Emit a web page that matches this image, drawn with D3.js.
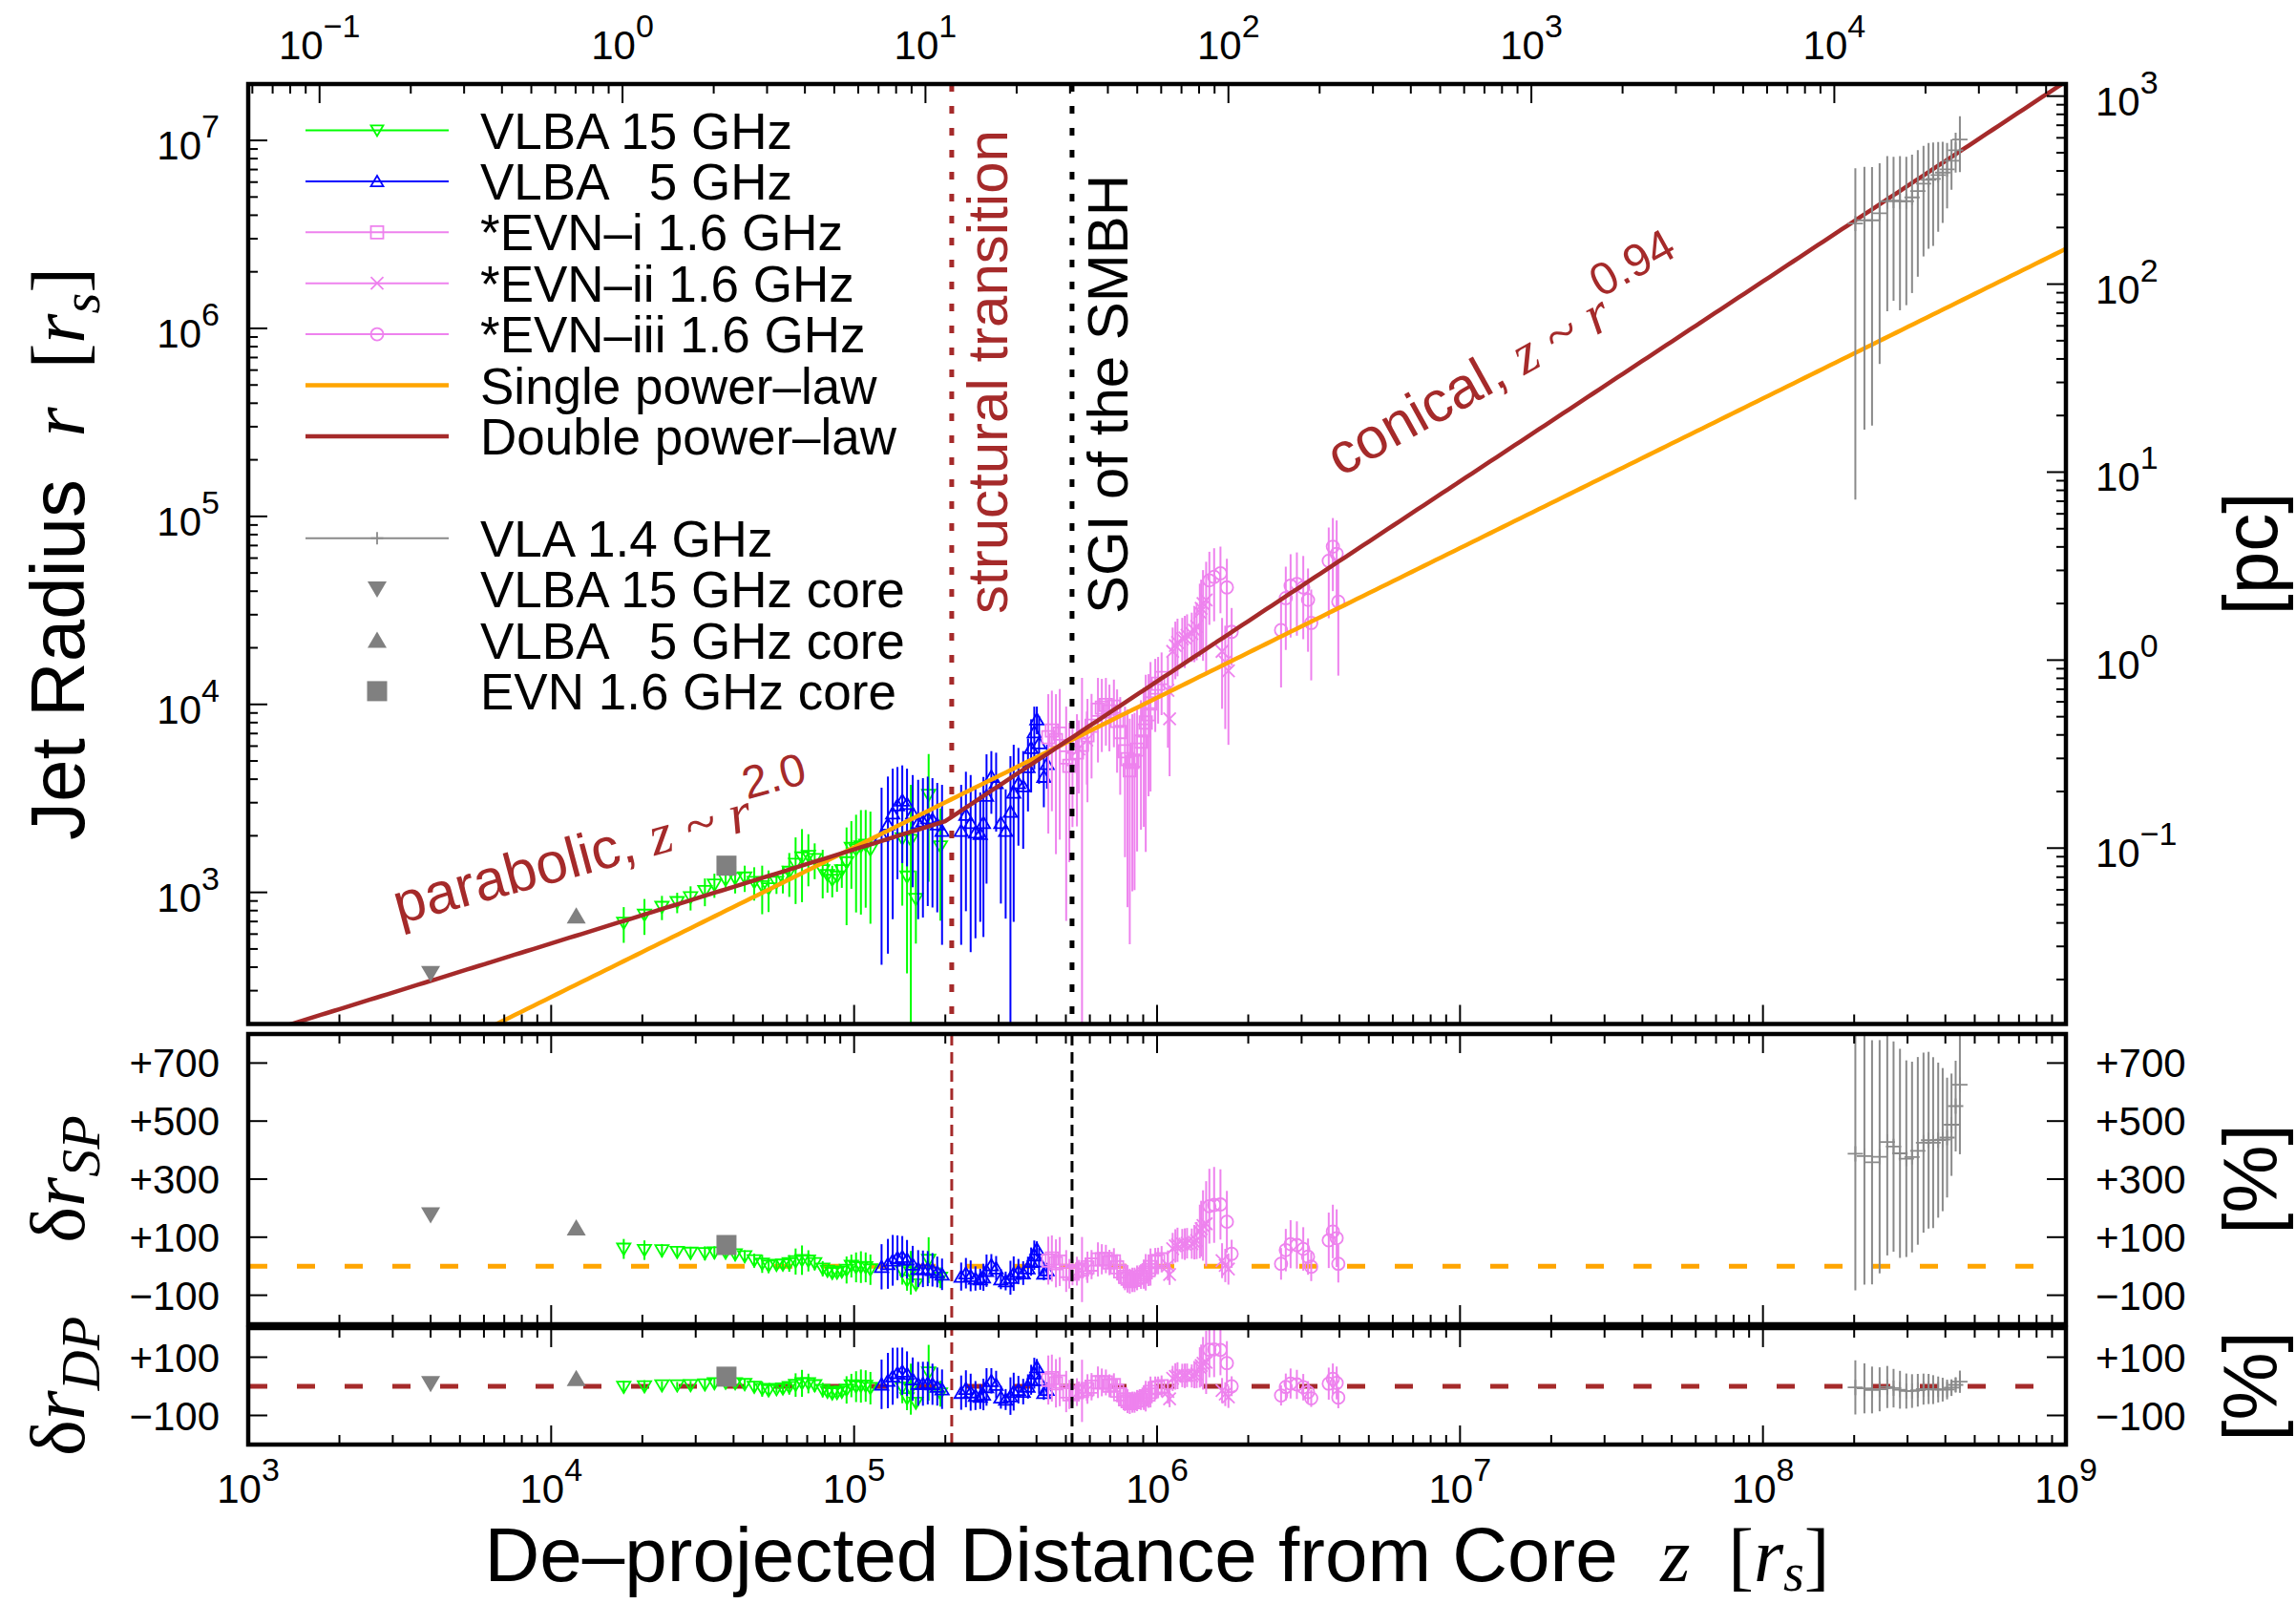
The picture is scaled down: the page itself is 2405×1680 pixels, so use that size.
<!DOCTYPE html>
<html>
<head>
<meta charset="utf-8">
<script src="https://cdn.jsdelivr.net/npm/d3@7"></script>
<style>
  body { margin: 0; background: #fff; }
  svg text { font-family: "Liberation Sans", Arial, Helvetica, sans-serif; white-space: pre; }
</style>
</head>
<body>
<svg id="chart" width="2405" height="1680"></svg>
<script>
// ---- data: [z (r_s), r (r_s), error (r_s)] ----
var vlba15 = [
  [1.736e4, 687, 148], [2.032e4, 758, 164], [2.321e4, 835, 123], [2.606e4, 885, 110],
  [2.885e4, 939, 138], [3.217e4, 1015, 171], [3.458e4, 1096, 161], [3.765e4, 1163, 144],
  [4.049e4, 1186, 199], [4.354e4, 1196, 191], [4.681e4, 1132, 228], [4.972e4, 1076, 311],
  [5.220e4, 1047, 261], [5.543e4, 1132, 151], [5.819e4, 1186, 199], [6.109e4, 1283, 337],
  [6.410e4, 1414, 547], [6.729e4, 1529, 642], [7.063e4, 1558, 481], [7.410e4, 1499, 324],
  [7.875e4, 1307, 378], [8.167e4, 1233, 236], [8.468e4, 1163, 222], [8.781e4, 1210, 203],
  [9.107e4, 1307, 250], [9.443e4, 1442, 773], [9.793e4, 1719, 674], [1.015e5, 1685, 903],
  [1.053e5, 1751, 989], [1.092e5, 1786, 957], [1.132e5, 1685, 1004], [1.442e5, 1932, 1082],
  [1.495e5, 1210, 839], [1.539e5, 1894, 1839], [1.599e5, 920, 386], [1.762e5, 3292, 2153],
  [1.927e5, 1751, 1044]
];
var vlba5 = [
  [1.232e5, 2008, 1596], [1.293e5, 2302, 1830], [1.341e5, 2636, 1916], [1.390e5, 2909, 1734],
  [1.442e5, 3084, 1653], [1.495e5, 2963, 1588], [1.561e5, 2636, 1571], [1.627e5, 2345, 1625],
  [1.687e5, 2393, 1658], [1.750e5, 2487, 1641], [1.814e5, 2441, 1610], [1.881e5, 2302, 1519],
  [1.951e5, 2129, 1603], [2.256e5, 2129, 1603], [2.339e5, 2588, 1794], [2.425e5, 2345, 1864],
  [2.515e5, 2087, 1517], [2.608e5, 2048, 1351], [2.672e5, 2345, 1766], [2.736e5, 3269, 2156],
  [2.838e5, 4130, 1512], [2.943e5, 3819, 1714], [3.051e5, 2345, 1473], [3.164e5, 2129, 1404],
  [3.281e5, 2690, 2612], [3.363e5, 3398, 2701], [3.486e5, 3819, 2047], [3.615e5, 3676, 1970],
  [3.749e5, 4644, 1950], [3.840e5, 5866, 2464], [3.933e5, 7123, 2607], [4.011e5, 8334, 1400],
  [4.079e5, 6220, 2438], [4.229e5, 4130, 1293], [4.335e5, 4827, 1270]
];
var evn1 = [
  [4.375e5, 6694, 4639], [4.495e5, 7267, 4564], [4.637e5, 6464, 4867], [4.774e5, 6991, 5083],
  [5.012e5, 5219, 4514], [5.134e5, 4714, 3267], [5.258e5, 5117, 2891], [5.440e5, 5553, 3310],
  [5.653e5, 6097, 7725], [5.892e5, 6855, 3839], [6.078e5, 7703, 3667], [6.381e5, 9368, 4459],
  [6.571e5, 9620, 4040], [6.777e5, 9929, 3892], [6.962e5, 9182, 3553], [7.203e5, 9734, 3816],
  [7.379e5, 8168, 3839], [7.556e5, 7123, 3818], [7.836e5, 5637, 4098], [7.990e5, 5117, 4283],
  [8.126e5, 4463, 3933], [8.287e5, 4941, 3928], [8.427e5, 5017, 3989], [8.593e5, 5752, 4101],
  [8.848e5, 6339, 4184], [9.041e5, 7267, 5036], [9.175e5, 8007, 6366], [9.374e5, 8866, 5621],
  [9.513e5, 10120, 6679], [9.863e5, 12300, 5166], [1.008e6, 12890, 4988], [1.035e6, 13830, 5062]
];
var evn2 = [
  [5.519e5, 5791, 2432], [5.862e5, 6457, 2712], [1.086e6, 11880, 6000], [1.100e6, 8382, 4233],
  [1.126e6, 19140, 6488], [1.149e6, 20580, 6977], [1.168e6, 21340, 7234], [1.211e6, 22310, 6537],
  [1.235e6, 22590, 6980], [1.256e6, 23300, 6827], [1.302e6, 23790, 6970], [1.328e6, 24810, 8038],
  [1.351e6, 25970, 8804], [1.384e6, 30880, 12970], [1.398e6, 32460, 13630], [1.418e6, 34420, 17380],
  [1.452e6, 35940, 21420], [1.639e6, 19140, 9666], [1.679e6, 16810, 9414], [1.720e6, 15080, 8988]
];
var evn3 = [
  [1.488e6, 45670, 19180], [1.543e6, 47690, 20030], [1.619e6, 49800, 19270], [1.700e6, 41900, 17600],
  [1.763e6, 24320, 8245], [2.566e6, 24840, 12540], [2.660e6, 36750, 17270], [2.759e6, 42800, 20120],
  [2.894e6, 43750, 20560], [3.038e6, 41900, 19690], [3.150e6, 35940, 16890], [3.227e6, 27120, 13700],
  [3.687e6, 57990, 29280], [3.804e6, 69020, 28990], [3.916e6, 63220, 31930], [3.965e6, 35200, 20980]
];
var vla = [
  [2.018e8, 3.614e6, 3.491e6], [2.162e8, 3.757e6, 3.468e6], [2.291e8, 3.757e6, 3.453e6],
  [2.427e8, 4.098e6, 3.451e6], [2.572e8, 4.748e6, 3.514e6], [2.698e8, 4.786e6, 3.384e6],
  [2.833e8, 4.748e6, 3.499e6], [2.973e8, 4.748e6, 3.419e6], [3.105e8, 4.975e6, 3.433e6],
  [3.244e8, 5.381e6, 3.498e6], [3.388e8, 5.888e6, 3.474e6], [3.521e8, 6.168e6, 3.516e6],
  [3.645e8, 6.241e6, 3.495e6], [3.788e8, 6.540e6, 3.270e6], [3.919e8, 6.742e6, 3.101e6],
  [4.053e8, 7.016e6, 2.666e6], [4.191e8, 7.794e6, 2.338e6], [4.325e8, 8.864e6, 2.127e6],
  [4.467e8, 1.012e7, 3.340e6]
];
var vlba15Core = [[4.0e3, 370]];
var vlba5Core = [[1.21e4, 750]];
var evnCore = [[3.79e4, 1387]];

// fitted models
var spPivot = [1.202e5, 2009];     // a point on the single power-law
var spIndex = 0.796;
var dpBreak = [2.0e5, 2393];       // break of the double power-law
var dpIndex = [0.5, 1 / 0.94];     // parabolic z~r^2.0, conical z~r^0.94
var zTransition = 2.1e5;           // structural transition
var zSGI = 5.24e5;                 // sphere of gravitational influence
var rsPerPc = 1.72e4;              // r_s per parsec (secondary axes)

var xExps = [3, 4, 5, 6, 7, 8, 9];
var topExps = [-1, 0, 1, 2, 3, 4];
var leftExps = [3, 4, 5, 6, 7];
var rightExps = [-1, 0, 1, 2, 3];
var spTicks = [700, 500, 300, 100, -100];
var dpTicks = [100, -100];

// ---- layout ----
var L = 260, R = 2164;
var mainTop = 88, mainBot = 1072.5;
var spTop = 1083, spBot = 1387;
var dpTop = 1391, dpBot = 1513;
var serif = "'Liberation Serif', 'Times New Roman', serif";
var brown = "#a52a2a", orange = "#ffa500";

var x = d3.scaleLog().domain([1e3, 1e9]).range([L, R]);
var xTop = d3.scaleLog().domain([1e3 / rsPerPc, 1e9 / rsPerPc]).range([L, R]);
var y = d3.scaleLog().domain([199.5, 1.995e7]).range([mainBot, mainTop]);
var yRight = d3.scaleLog().domain([199.5 / rsPerPc, 1.995e7 / rsPerPc]).range([mainBot, mainTop]);
var ySP = d3.scaleLinear().domain([-200, 800]).range([spBot, spTop]);
var yDP = d3.scaleLinear().domain([-200, 200]).range([dpBot, dpTop]);

function sp(z) { return spPivot[1] * Math.pow(z / spPivot[0], spIndex); }
function dp(z) {
  var k = z < dpBreak[0] ? dpIndex[0] : dpIndex[1];
  return dpBreak[1] * Math.pow(z / dpBreak[0], k);
}

var svg = d3.select("#chart");
svg.append("rect").attr("width", 2405).attr("height", 1680).attr("fill", "#fff");
var defs = svg.append("defs");
function addClip(id, y0, y1) {
  defs.append("clipPath").attr("id", id).append("rect")
    .attr("x", L).attr("y", y0).attr("width", R - L).attr("height", y1 - y0);
}
addClip("clipMain", mainTop, mainBot);
addClip("clipSP", spTop, spBot);
addClip("clipDP", dpTop, dpBot);

// marker shapes
var shapes = {
  down: function(s) { return "M" + (-s) + "," + (-s * 0.8) + "L" + s + "," + (-s * 0.8) + "L0," + (s * 0.9) + "Z"; },
  up: function(s) { return "M" + (-s) + "," + (s * 0.8) + "L" + s + "," + (s * 0.8) + "L0," + (-s * 0.9) + "Z"; },
  square: function(s) { return "M" + (-s) + "," + (-s) + "h" + 2 * s + "v" + 2 * s + "h" + (-2 * s) + "Z"; },
  circle: function(s) { return "M" + (-s) + ",0a" + s + "," + s + " 0 1,0 " + 2 * s + ",0a" + s + "," + s + " 0 1,0 " + (-2 * s) + ",0Z"; },
  cross: function(s) { return "M" + (-s) + "," + (-s) + "L" + s + "," + s + "M" + (-s) + "," + s + "L" + s + "," + (-s); },
  plus: function(s) { return "M" + (-s) + ",0H" + s + "M0," + (-s) + "V" + s; }
};

var series = [
  { data: vlba15, color: "#00ff00", shape: "down", size: 7, label: "VLBA 15 GHz" },
  { data: vlba5, color: "#0000ff", shape: "up", size: 7, label: "VLBA   5 GHz" },
  { data: evn1, color: "#ee82ee", shape: "square", size: 6.5, label: "*EVN\u2013i 1.6 GHz" },
  { data: evn2, color: "#ee82ee", shape: "cross", size: 6.5, label: "*EVN\u2013ii 1.6 GHz" },
  { data: evn3, color: "#ee82ee", shape: "circle", size: 6.5, label: "*EVN\u2013iii 1.6 GHz" }
];
var vlaSeries = { data: vla, color: "#8a8a8a", shape: "plus", size: 8, label: "VLA 1.4 GHz" };
var cores = [
  { data: vlba15Core, color: "#808080", shape: "down", size: 10, filled: true, label: "VLBA 15 GHz core" },
  { data: vlba5Core, color: "#808080", shape: "up", size: 10, filled: true, label: "VLBA   5 GHz core" },
  { data: evnCore, color: "#808080", shape: "square", size: 10.5, filled: true, label: "EVN 1.6 GHz core" }
];

// draw one series with error bars; valFn gives [value, error]
function drawSeries(g, s, yScale, valFn, floor) {
  s.data.forEach(function(d) {
    var v = valFn(d), px = x(d[0]);
    if (v[1] > 0) {
      var lo = v[0] - v[1];
      if (floor !== undefined) lo = Math.max(lo, floor);
      g.append("line").attr("x1", px).attr("x2", px)
        .attr("y1", yScale(v[0] + v[1])).attr("y2", yScale(lo))
        .attr("stroke", s.color).attr("stroke-width", 2);
    }
    g.append("path").attr("d", shapes[s.shape](s.size))
      .attr("transform", "translate(" + px + "," + yScale(v[0]) + ")")
      .attr("fill", s.filled ? s.color : "none")
      .attr("stroke", s.filled ? "none" : s.color)
      .attr("stroke-width", 1.8);
  });
}
function mainVal(d) { return [d[1], d[2] || 0]; }
function resVal(model) {
  return function(d) { var m = model(d[0]); return [(d[1] / m - 1) * 100, (d[2] || 0) / m * 100]; };
}

// ---- main panel ----
var gMain = svg.append("g").attr("clip-path", "url(#clipMain)");
series.forEach(function(s) { drawSeries(gMain, s, y, mainVal, 1); });

var zs = d3.range(0, 301).map(function(i) { return Math.pow(10, 3 + i * 6 / 300); });
var line = d3.line().x(function(z) { return x(z); });
gMain.append("path").datum(zs)
  .attr("d", line.y(function(z) { return y(sp(z)); }))
  .attr("fill", "none").attr("stroke", orange).attr("stroke-width", 4.5);
gMain.append("path").datum(zs)
  .attr("d", line.y(function(z) { return y(dp(z)); }))
  .attr("fill", "none").attr("stroke", brown).attr("stroke-width", 4.5);

drawSeries(gMain, vlaSeries, y, mainVal, 1);
cores.forEach(function(s) { drawSeries(gMain, s, y, mainVal, 1); });

// ---- residual panels ----
var gSP = svg.append("g").attr("clip-path", "url(#clipSP)");
var gDP = svg.append("g").attr("clip-path", "url(#clipDP)");
[[gSP, ySP, sp, orange], [gDP, yDP, dp, brown]].forEach(function(p) {
  var g = p[0], ys = p[1];
  g.append("line").attr("x1", 261).attr("x2", 2140)
    .attr("y1", ys(0)).attr("y2", ys(0))
    .attr("stroke", p[3]).attr("stroke-width", 5).attr("stroke-dasharray", "19,31");
  series.forEach(function(s) { drawSeries(g, s, ys, resVal(p[2])); });
  drawSeries(g, vlaSeries, ys, resVal(p[2]));
  cores.forEach(function(s) { drawSeries(g, s, ys, resVal(p[2])); });
});

// vertical markers
[[zTransition, brown], [zSGI, "#000"]].forEach(function(v) {
  var px = x(v[0]);
  svg.append("line").attr("x1", px).attr("x2", px).attr("y1", mainTop).attr("y2", mainBot)
    .attr("stroke", v[1]).attr("stroke-width", 5).attr("stroke-dasharray", "8,15");
  svg.append("line").attr("x1", px).attr("x2", px).attr("y1", spTop).attr("y2", dpBot)
    .attr("stroke", v[1]).attr("stroke-width", 3).attr("stroke-dasharray", "12,7");
});

// ---- frames and ticks ----
var axes = svg.append("g").attr("stroke", "#000").attr("fill", "none");
[[mainTop, mainBot], [spTop, spBot], [dpTop, dpBot]].forEach(function(p) {
  axes.append("rect").attr("x", L).attr("y", p[0]).attr("width", R - L).attr("height", p[1] - p[0])
    .attr("stroke-width", 4.5);
});
function isPow10(v) { var e = Math.log10(v); return Math.abs(e - Math.round(e)) < 1e-6; }
function ticksH(scale, yPos, dir) {
  scale.ticks().forEach(function(v) {
    var px = scale(v);
    if (px < L + 1 || px > R - 1) return;
    axes.append("line").attr("x1", px).attr("x2", px)
      .attr("y1", yPos).attr("y2", yPos + dir * (isPow10(v) ? 20 : 10)).attr("stroke-width", 2);
  });
}
function ticksV(scale, vals, xPos, dir, top, bot) {
  vals.forEach(function(v) {
    var py = scale(v);
    if (py < top + 1 || py > bot - 1) return;
    var major = scale.base ? isPow10(v) : true;
    axes.append("line").attr("y1", py).attr("y2", py)
      .attr("x1", xPos).attr("x2", xPos + dir * (major ? 20 : 10)).attr("stroke-width", 2);
  });
}
ticksH(xTop, mainTop, 1);
ticksH(x, mainBot, -1);
ticksH(x, spTop, 1); ticksH(x, spBot, -1);
ticksH(x, dpTop, 1); ticksH(x, dpBot, -1);
ticksV(y, y.ticks(), L, 1, mainTop, mainBot);
ticksV(yRight, yRight.ticks(), R, -1, mainTop, mainBot);
ticksV(ySP, spTicks, L, 1, spTop, spBot); ticksV(ySP, spTicks, R, -1, spTop, spBot);
ticksV(yDP, dpTicks, L, 1, dpTop, dpBot); ticksV(yDP, dpTicks, R, -1, dpTop, dpBot);

// ---- tick labels ----
var labels = svg.append("g").attr("font-size", 42).attr("fill", "#000");
function powLabel(px, py, e, anchor) {
  var t = labels.append("text").attr("x", px).attr("y", py).attr("text-anchor", anchor);
  t.append("tspan").text("10");
  t.append("tspan").attr("dy", -23).attr("font-size", 34).text(e < 0 ? "\u2212" + (-e) : e);
}
xExps.forEach(function(e) { powLabel(x(Math.pow(10, e)), 1574, e, "middle"); });
topExps.forEach(function(e) { powLabel(xTop(Math.pow(10, e)), 62, e, "middle"); });
leftExps.forEach(function(e) { powLabel(230, y(Math.pow(10, e)) + 20, e, "end"); });
rightExps.forEach(function(e) { powLabel(2195, yRight(Math.pow(10, e)) + 20, e, "start"); });
function pctText(v) { return v > 0 ? "+" + v : "\u2212" + (-v); }
[[ySP, spTicks], [yDP, dpTicks]].forEach(function(p) {
  p[1].forEach(function(v) {
    labels.append("text").attr("x", 230).attr("y", p[0](v) + 15).attr("text-anchor", "end").text(pctText(v));
    labels.append("text").attr("x", 2195).attr("y", p[0](v) + 15).text(pctText(v));
  });
});

// ---- axis titles ----
function rich(t, parts) {
  parts.forEach(function(p) {
    var ts = t.append("tspan").text(p.t);
    if (p.serif) ts.attr("font-family", serif);
    if (p.it) ts.attr("font-style", "italic");
    if (p.size) ts.attr("font-size", p.size);
    if (p.dy) ts.attr("dy", p.dy);
  });
  return t;
}
var titles = svg.append("g").attr("font-size", 80).attr("fill", "#000");
rich(titles.append("text").attr("x", 1212).attr("y", 1656).attr("text-anchor", "middle"), [
  { t: "De\u2013projected Distance from Core  " }, { t: "z", serif: 1, it: 1 }, { t: "  [", serif: 1 },
  { t: "r", serif: 1, it: 1 }, { t: "s", serif: 1, it: 1, size: 56, dy: 10 }, { t: "]", serif: 1, dy: -10 }
]);
rich(titles.append("text").attr("transform", "translate(88,580) rotate(-90)").attr("text-anchor", "middle"), [
  { t: "Jet Radius  " }, { t: "r", serif: 1, it: 1 }, { t: "  [", serif: 1 },
  { t: "r", serif: 1, it: 1 }, { t: "s", serif: 1, it: 1, size: 56, dy: 16 }, { t: "]", serif: 1, dy: -16 }
]);
[["SP", (spTop + spBot) / 2], ["DP", (dpTop + dpBot) / 2]].forEach(function(p) {
  rich(titles.append("text").attr("transform", "translate(88," + p[1] + ") rotate(-90)").attr("text-anchor", "middle"), [
    { t: "\u03b4", serif: 1 }, { t: "r", serif: 1, it: 1 }, { t: p[0], serif: 1, it: 1, size: 58, dy: 16 }
  ]);
});
titles.append("text").attr("transform", "translate(2385,580) rotate(-90)").attr("text-anchor", "middle").text("[pc]");
titles.append("text").attr("transform", "translate(2385," + (spTop + spBot) / 2 + ") rotate(-90)").attr("text-anchor", "middle").text("[%]");
titles.append("text").attr("transform", "translate(2385," + (dpTop + dpBot) / 2 + ") rotate(-90)").attr("text-anchor", "middle").text("[%]");

// ---- annotations ----
var notes = svg.append("g").attr("font-size", 60);
notes.append("text").attr("transform", "translate(1055,643) rotate(-90)").attr("fill", brown).text("structural transition");
notes.append("text").attr("transform", "translate(1181,643) rotate(-90)").attr("fill", "#000").text("SGI of the SMBH");
rich(notes.append("text").attr("transform", "translate(418,968) rotate(-15)").attr("fill", brown), [
  { t: "parabolic, " }, { t: "z ~ r", serif: 1, it: 1 }, { t: "2.0", size: 48, dy: -32 }
]);
rich(notes.append("text").attr("transform", "translate(1404,500) rotate(-29)").attr("fill", brown), [
  { t: "conical, " }, { t: "z ~ r", serif: 1, it: 1 }, { t: "0.94", size: 48, dy: -32 }
]);

// ---- legend ----
var legend = svg.append("g").attr("font-size", 53);
function rowY(i) { return 136.5 + i * 53.4; }
var legendRows = series.map(function(s, i) { return { s: s, row: i, type: "err" }; })
  .concat([
    { s: { color: orange, label: "Single power\u2013law" }, row: 5, type: "fit" },
    { s: { color: brown, label: "Double power\u2013law" }, row: 6, type: "fit" },
    { s: vlaSeries, row: 8, type: "err" }
  ])
  .concat(cores.map(function(s, i) { return { s: s, row: 9 + i, type: "core" }; }));
legendRows.forEach(function(it) {
  var yy = rowY(it.row), s = it.s;
  if (it.type !== "core") {
    legend.append("line").attr("x1", 320).attr("x2", 470).attr("y1", yy).attr("y2", yy)
      .attr("stroke", s.color).attr("stroke-width", it.type === "fit" ? 4.5 : 2);
  }
  if (it.type !== "fit") {
    legend.append("path").attr("d", shapes[s.shape](it.type === "core" ? s.size : 6.5))
      .attr("transform", "translate(395," + yy + ")")
      .attr("fill", s.filled ? s.color : "none")
      .attr("stroke", s.filled ? "none" : s.color).attr("stroke-width", 1.8);
  }
  legend.append("text").attr("x", 503).attr("y", yy + 19).text(s.label);
});
</script>
</body>
</html>
